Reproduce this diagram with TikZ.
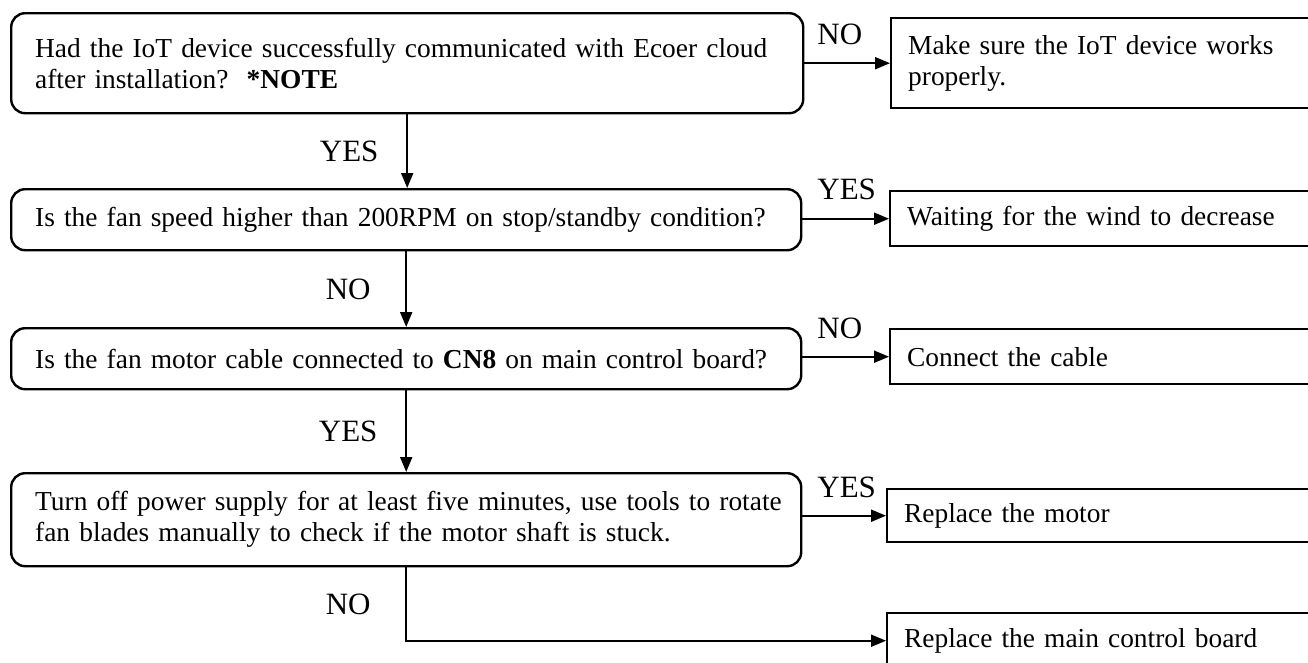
\documentclass[tikz,border=0pt]{standalone}
\usepackage{fontspec}
\setmainfont{Liberation Serif}
\usetikzlibrary{arrows.meta}
\begin{document}
\begin{tikzpicture}[x=1pt,y=-1pt,
  rbox/.style={draw, line width=2.4pt, rounded corners=14pt, anchor=north west,
    inner xsep=24pt, inner ysep=0pt, align=left,
    font=\fontsize{27.4}{31}\selectfont},
  sbox/.style={draw, line width=2.4pt, anchor=north west,
    inner xsep=17pt, inner ysep=0pt, align=left,
    font=\fontsize{27.4}{31}\selectfont},
  lbl/.style={font=\fontsize{31}{31}\selectfont, inner sep=0pt},
  conn/.style={line width=2pt, -{Triangle[length=15pt,width=12pt]}},
]
\useasboundingbox (0,0) rectangle (1308,662);
\clip (0,0) rectangle (1308,662);

% decision boxes
\node[rbox, minimum width=792pt, minimum height=100pt, text width=744pt] (q1) at (10,12)
  {\mbox{Had the IoT device successfully communicated with Ecoer cloud}\\after installation?\ \ \textbf{*NOTE}};
\node[rbox, minimum width=790pt, minimum height=61pt, text width=742pt] (q2) at (10,188)
  {\mbox{Is the fan speed higher than 200RPM on stop/standby condition?}};
\node[rbox, minimum width=790pt, minimum height=61pt, text width=742pt] (q3) at (10,327)
  {\mbox{Is the fan motor cable connected to \textbf{CN8} on main control board?}};
\node[rbox, minimum width=790pt, minimum height=93pt, text width=742pt] (q4) at (10,472)
  {\mbox{Turn off power supply for at least five minutes, use tools to rotate}\\fan blades manually to check if the motor shaft is stuck.};

% action boxes
\node[sbox, minimum width=432pt, minimum height=90pt, text width=398pt] (a1) at (890,17)
  {Make sure the IoT device works\\properly.};
\node[sbox, minimum width=433pt, minimum height=55pt, text width=399pt] (a2) at (889,190)
  {Waiting for the wind to decrease};
\node[sbox, minimum width=433pt, minimum height=55pt, text width=399pt] (a3) at (889,328)
  {Connect the cable};
\node[sbox, minimum width=436pt, minimum height=53pt, text width=402pt] (a4) at (886,488)
  {Replace the motor};
\node[sbox, minimum width=436pt, minimum height=55pt, text width=402pt] (a5) at (886,612)
  {Replace the main control board};

% vertical connectors
\draw[conn] (q1.south) -- node[lbl, xshift=-58pt] {YES} (q1.south |- q2.north);
\draw[conn] (q2.south) -- node[lbl, xshift=-58pt] {NO} (q2.south |- q3.north);
\draw[conn] (q3.south) -- node[lbl, xshift=-58pt] {YES} (q3.south |- q4.north);
\coordinate (c4) at (q4.south |- a5.west);
\draw[conn] (q4.south) -- node[lbl, xshift=-58pt] {NO} (c4) -- (a5.west);

% horizontal connectors
\draw[conn] (a1.west -| q1.east) -- node[lbl, pos=0, anchor=base west, xshift=12pt, yshift=19pt] {NO} (a1.west);
\draw[conn] (a2.west -| q2.east) -- node[lbl, pos=0, anchor=base west, xshift=14pt, yshift=19pt] {YES} (a2.west);
\draw[conn] (a3.west -| q3.east) -- node[lbl, pos=0, anchor=base west, xshift=14pt, yshift=18pt] {NO} (a3.west);
\draw[conn] (a4.west -| q4.east) -- node[lbl, pos=0, anchor=base west, xshift=14pt, yshift=18pt] {YES} (a4.west);
\end{tikzpicture}
\end{document}
